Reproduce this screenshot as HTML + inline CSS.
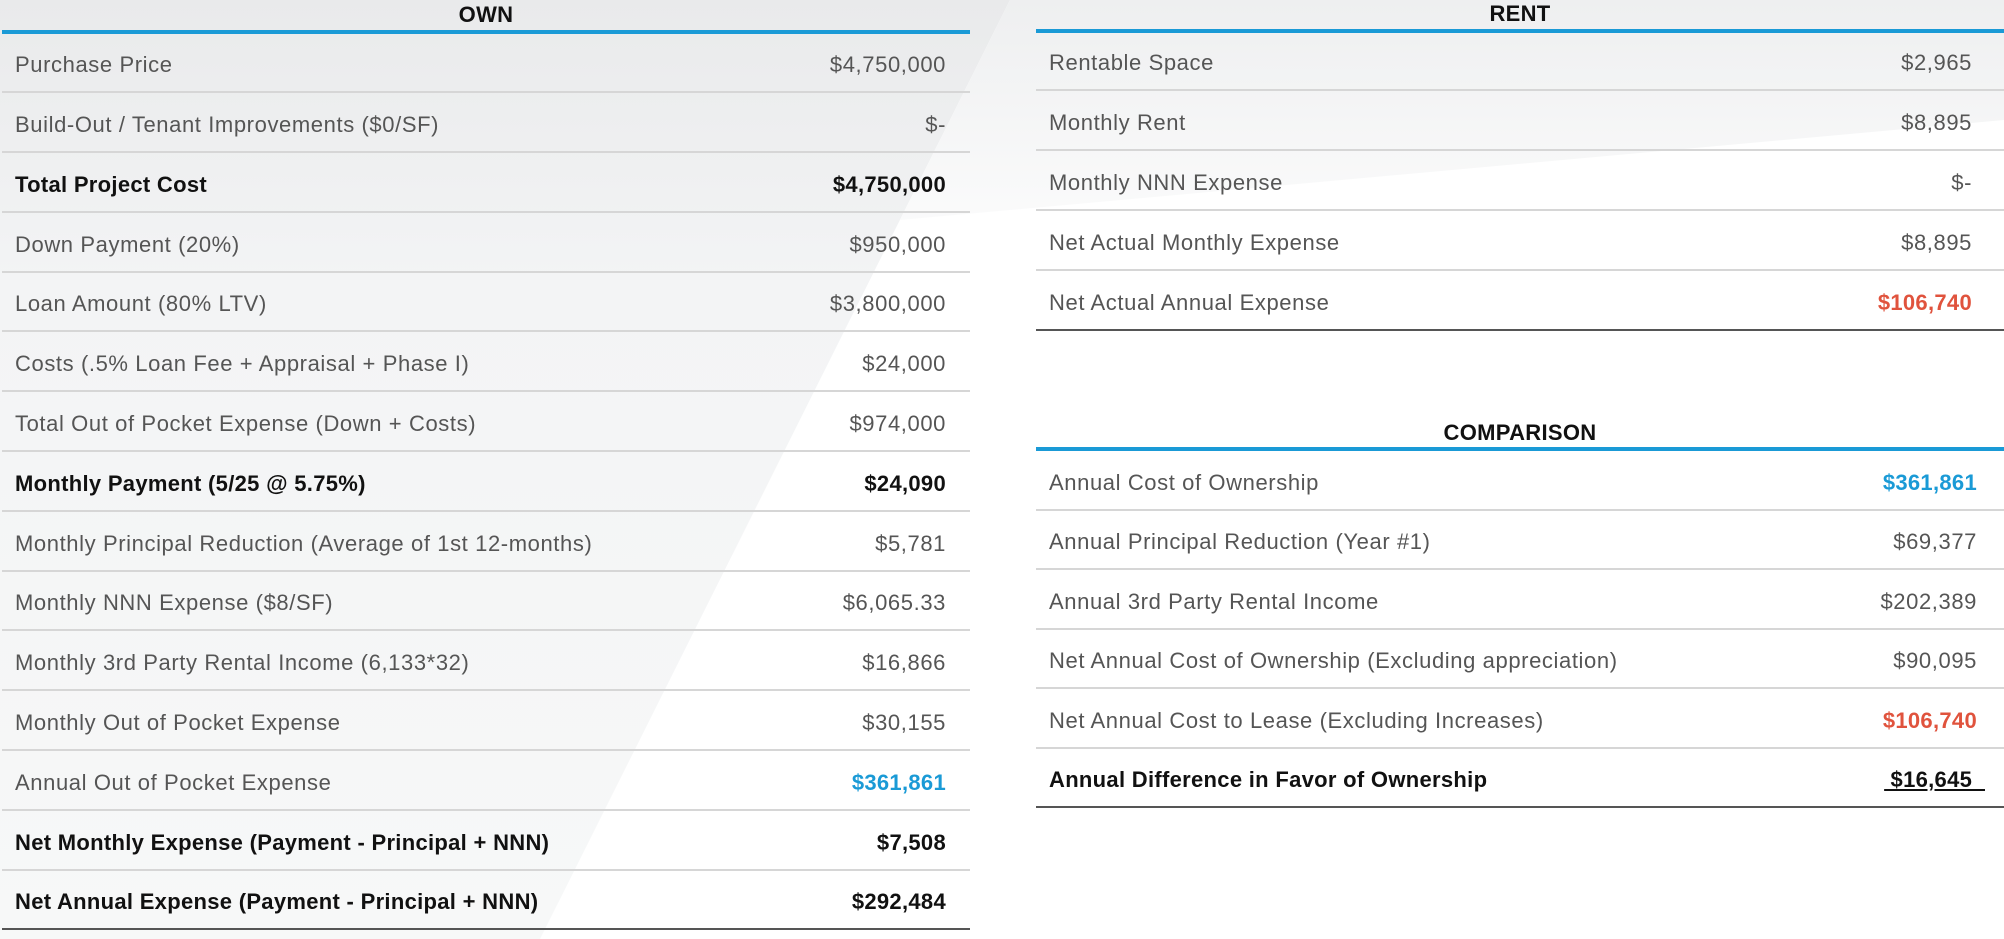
<!DOCTYPE html>
<html><head><meta charset="utf-8">
<style>
html,body{margin:0;padding:0}
body{width:2004px;height:939px;position:relative;overflow:hidden;background:#fff;font-family:"Liberation Sans",sans-serif}
#bg{position:absolute;left:0;top:0;width:2004px;height:939px;background:linear-gradient(180deg,#e9eaeb 0%,#f3f4f5 30%,#f7f8f8 100%);clip-path:polygon(0 0,1010px 0,540px 939px,0 939px)}
#bg2{position:absolute;left:0;top:0;width:2004px;height:300px;background:linear-gradient(180deg,#eeeff0,#fff);clip-path:polygon(1010px 0,2004px 0,2004px 120px,900px 220px)}
.hdr{position:absolute;font-size:22px;color:#111;text-align:center;font-weight:bold;letter-spacing:0.3px}
.bl{position:absolute;height:4px;background:#1a9ad6}
.row{position:absolute;border-bottom:2px solid #d6d6d6;box-sizing:border-box}
.row .l,.row .v{position:absolute;bottom:13px;font-size:22px;color:#555;white-space:nowrap;letter-spacing:0.6px}
.row .l{left:13px}
.b .l,.b .v{color:#111;font-weight:bold;letter-spacing:0.3px}
.last{border-bottom:2px solid #555}
</style></head><body>
<div id="bg"></div>
<div id="bg2"></div>
<div class="hdr" style="left:2px;width:968px;top:2px">OWN</div>
<div class="bl" style="left:2px;width:968px;top:30px"></div>
<div class="hdr" style="left:1036px;width:968px;top:1px">RENT</div>
<div class="bl" style="left:1036px;width:968px;top:29px"></div>
<div class="hdr" style="left:1036px;width:968px;top:420px">COMPARISON</div>
<div class="bl" style="left:1036px;width:968px;top:447px"></div>
<div id="rows"></div>
<script>
const ownLabels=["Purchase Price","Build-Out / Tenant Improvements ($0/SF)","Total Project Cost","Down Payment (20%)","Loan Amount (80% LTV)","Costs (.5% Loan Fee + Appraisal + Phase I)","Total Out of Pocket Expense (Down + Costs)","Monthly Payment (5/25 @ 5.75%)","Monthly Principal Reduction (Average of 1st 12-months)","Monthly NNN Expense ($8/SF)","Monthly 3rd Party Rental Income (6,133*32)","Monthly Out of Pocket Expense","Annual Out of Pocket Expense","Net Monthly Expense (Payment - Principal + NNN)","Net Annual Expense (Payment - Principal + NNN)"];
const ownValues=["$4,750,000","$-","$4,750,000","$950,000","$3,800,000","$24,000","$974,000","$24,090","$5,781","$6,065.33","$16,866","$30,155","$361,861","$7,508","$292,484"];
const ownStyles=["","","b","","","","","b","","","","","blue","b","b"];
const rentLabels=["Rentable Space","Monthly Rent","Monthly NNN Expense","Net Actual Monthly Expense","Net Actual Annual Expense"];
const rentValues=["$2,965","$8,895","$-","$8,895","$106,740"];
const rentStyles=["","","","","red"];
const compLabels=["Annual Cost of Ownership","Annual Principal Reduction (Year #1)","Annual 3rd Party Rental Income","Net Annual Cost of Ownership (Excluding appreciation)","Net Annual Cost to Lease (Excluding Increases)","Annual Difference in Favor of Ownership"];
const compValues=["$361,861","$69,377","$202,389","$90,095","$106,740","$16,645"];
const compStyles=["blue","","","","red","bu"];
const host=document.getElementById('rows');
function build(labels,values,styles,x,w,top,h,vr,prefix){
  labels.forEach((lab,i)=>{
    const s=styles[i];
    const r=document.createElement('div');
    r.className='row'+((s==='b'||s==='bu')?' b':'')+(i===labels.length-1?' last':'');
    r.style.left=x+'px';r.style.width=w+'px';
    r.style.top=(top+i*h)+'px';r.style.height=h+'px';
    
    
    const l=document.createElement('span');l.className='l';l.textContent=lab;
    
    
    const v=document.createElement('span');v.className='v';v.textContent=values[i];
    
    
    v.style.right=vr+'px';
    if(s==='blue'){v.style.color='#1a9ad6';v.style.fontWeight='bold';v.style.letterSpacing='0.3px';}
    if(s==='red'){v.style.color='#e0533d';v.style.fontWeight='bold';v.style.letterSpacing='0.3px';}
    if(s==='bu'){v.style.textDecoration='underline';v.textContent='\u00a0'+values[i]+'\u00a0\u00a0';v.style.right=(vr-8)+'px';}
    r.appendChild(l);r.appendChild(v);host.appendChild(r);
  });
}
build(ownLabels,ownValues,ownStyles,2,968,33.5,59.8,24,'own');
build(rentLabels,rentValues,rentStyles,1036,968,30.5,60,32,'rent');
build(compLabels,compValues,compStyles,1036,968,451,59.5,27,'comparison');
</script>
</body></html>
